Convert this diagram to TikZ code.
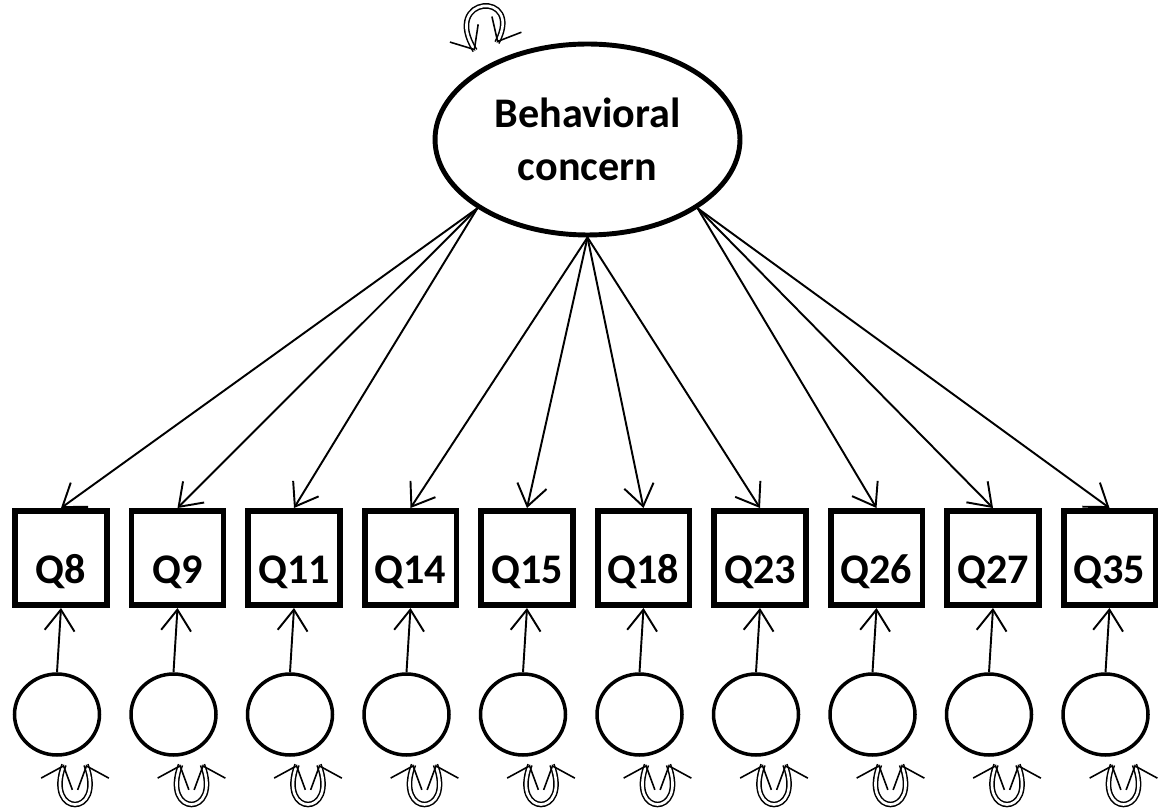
\documentclass[tikz,border=0pt]{standalone}
\usepackage{fontspec}
\setmainfont{Carlito}
\usetikzlibrary{arrows.meta,shapes.geometric,decorations.markings}

\begin{document}
\begin{tikzpicture}[x=0.02cm, y=-0.02cm,
        item/.style={draw, line width=3.4pt, minimum width=1.84cm, minimum height=1.88cm,
            inner sep=0pt, text height=29pt, text depth=0pt,
            font=\bfseries\fontsize{24}{28}\selectfont},
        latent/.style={draw, ellipse, line width=2.8pt, minimum width=6.1cm,
            minimum height=3.82cm, inner sep=0pt, align=center,
            font=\bfseries\fontsize{24}{30}\selectfont},
        err/.style={draw, ellipse, line width=2pt, minimum width=1.7cm, minimum height=1.62cm},
        loading/.style={line width=1.1pt, -{Straight Barb[length=12pt, width=17pt]}},
        varhead/.tip={Straight Barb[length=11pt, width=19pt, line width=0.9pt]},
        selfvar/.style={double, line width=0.85pt, double distance=1.5pt,
            postaction={decorate, decoration={markings,
                mark=at position 0 with {\arrowreversed{varhead}},
                mark=at position 0.999 with {\arrow{varhead}}}}}]
    \useasboundingbox (0, 0) rectangle (1165, 810);

    \node[latent] (bc) at (587.5, 139.5) {
        Behavioral\\concern
    };

    \node[item] (q8) at (61, 558) {Q8};
    \node[item] (q9) at (177.5, 558) {Q9};
    \node[item] (q11) at (294, 558) {Q11};
    \node[item] (q14) at (410.5, 558) {Q14};
    \node[item] (q15) at (527, 558) {Q15};
    \node[item] (q18) at (643.5, 558) {Q18};
    \node[item] (q23) at (760, 558) {Q23};
    \node[item] (q26) at (876.5, 558) {Q26};
    \node[item] (q27) at (993, 558) {Q27};
    \node[item] (q35) at (1109.5, 558) {Q35};

    \node[err] (e8) at (57, 714.5) {};
    \node[err] (e9) at (173.5, 714.5) {};
    \node[err] (e11) at (290, 714.5) {};
    \node[err] (e14) at (406.5, 714.5) {};
    \node[err] (e15) at (523, 714.5) {};
    \node[err] (e18) at (639.5, 714.5) {};
    \node[err] (e23) at (756, 714.5) {};
    \node[err] (e26) at (872.5, 714.5) {};
    \node[err] (e27) at (989, 714.5) {};
    \node[err] (e35) at (1105.5, 714.5) {};

    % loadings
    \foreach \q in {8, 9, 11} {
        \draw[loading] (bc.212) -- (q\q.north);
    }
    \foreach \q in {14, 15, 18, 23} {
        \draw[loading] (bc.south) -- (q\q.north);
    }
    \foreach \q in {26, 27, 35} {
        \draw[loading] (bc.328) -- (q\q.north);
    }

    % errors and variances
    \foreach \q in {8, 9, 11, 14, 15, 18, 23, 26, 27, 35} {
        \draw[loading] (e\q.north) -- (q\q.south);
        \draw[selfvar] ([shift={(7, 8)}]e\q.south) .. controls +(-20, 53) and +(20, 53) .. ([shift={(29, 8)}]e\q.south);
    }
    \draw[selfvar] ([shift={(-112.5, 9)}]bc.north) .. controls (440, -5) and (525, -10) .. ([shift={(-90.5, 1)}]bc.north);
\end{tikzpicture}
\end{document}
